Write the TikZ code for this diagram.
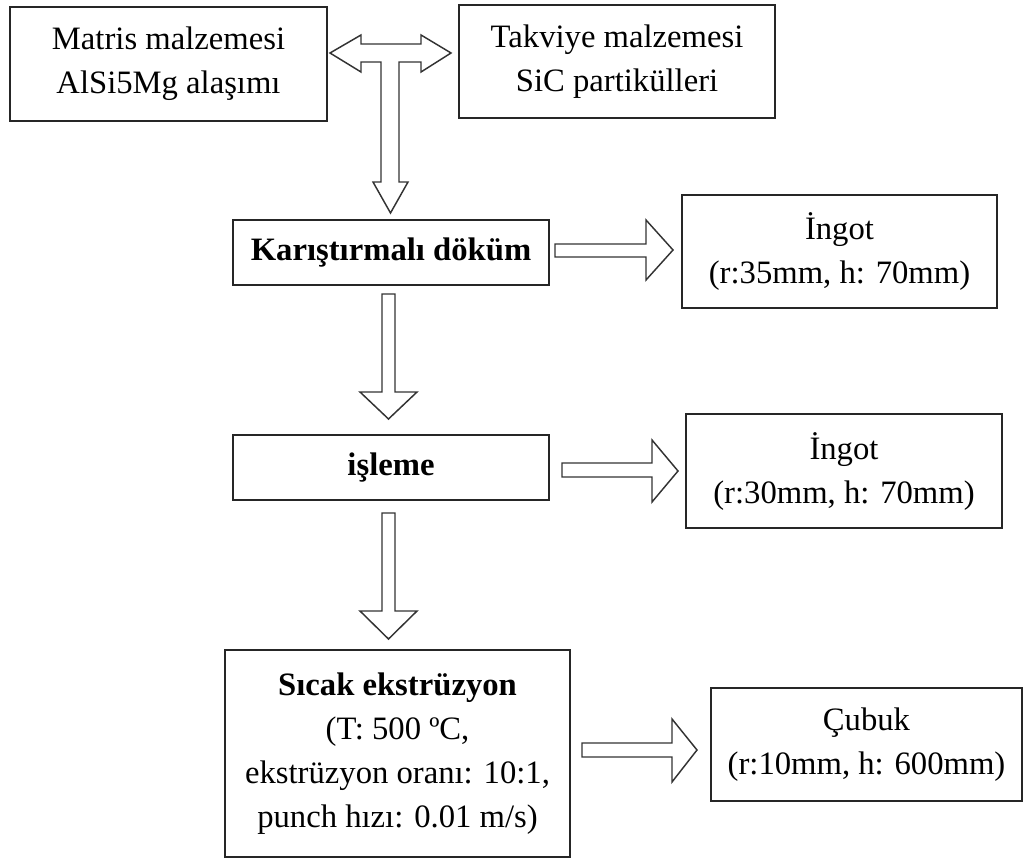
\documentclass[tikz,border=0pt]{standalone}
\usepackage{fontspec}
\setmainfont{Liberation Serif}
\begin{document}
\begin{tikzpicture}[x=0.75pt,y=-0.75pt,
  box/.style={draw=black!85, line width=1.2pt, fill=white, align=center, inner sep=0pt,
    font=\fontsize{24.5}{33}\selectfont},
  blk/.style={draw=black!80, line width=1.1pt, fill=white, line join=miter}]
\useasboundingbox (0,0) rectangle (1030,859);

% boxes
\node[box, minimum width=317*0.75pt, minimum height=114*0.75pt] (matris) at (168.5,64) {Matris malzemesi\\AlSi5Mg alaşımı};
\node[box, minimum width=316*0.75pt, minimum height=113*0.75pt] (takviye) at (617,61.5) {Takviye malzemesi\\SiC partikülleri};
\node[box, minimum width=316*0.75pt, minimum height=65*0.75pt] (karis) at (391,252.5) {\bfseries Karıştırmalı döküm};
\node[box, minimum width=315*0.75pt, minimum height=113*0.75pt] (ingotA) at (839.5,251.5) {İngot\\(r:35mm, h: 70mm)};
\node[box, minimum width=316*0.75pt, minimum height=65*0.75pt] (isleme) at (391,467.5) {\bfseries işleme};
\node[box, minimum width=316*0.75pt, minimum height=114*0.75pt] (ingotB) at (844,471) {İngot\\(r:30mm, h: 70mm)};
\node[box, minimum width=345*0.75pt, minimum height=207*0.75pt] (sicak) at (397.5,753.5) {{\bfseries Sıcak ekstrüzyon}\\(T: 500 ºC,\\ekstrüzyon oranı: 10:1,\\punch hızı: 0.01 m/s)};
\node[box, minimum width=311*0.75pt, minimum height=113*0.75pt] (cubuk) at (866.5,744.5) {Çubuk\\(r:10mm, h: 600mm)};

% T-shaped block arrow (matris <-> takviye, down to karis)
\draw[blk] (330,53) -- (361,35) -- (361,44) -- (421,44) -- (421,35) -- (451,53) -- (421,72) -- (421,62)
  -- (399,62) -- (399,182) -- (408,182) -- (390.5,213) -- (373,182) -- (381,182) -- (381,62)
  -- (361,62) -- (361,72) -- cycle;

% down arrows
\draw[blk] (382,294) -- (395,294) -- (395,392) -- (417,392) -- (388.5,419) -- (360,392) -- (382,392) -- cycle;
\draw[blk] (382,513) -- (395,513) -- (395,611) -- (417,611) -- (388.5,639) -- (360,611) -- (382,611) -- cycle;

% right arrows
\draw[blk] (555,244) -- (646,244) -- (646,220) -- (673,250) -- (646,280) -- (646,257) -- (555,257) -- cycle;
\draw[blk] (562,463) -- (652,463) -- (652,440) -- (678,471) -- (652,502) -- (652,477) -- (562,477) -- cycle;
\draw[blk] (582,743) -- (672,743) -- (672,719) -- (697,750) -- (672,782) -- (672,757) -- (582,757) -- cycle;
\end{tikzpicture}
\end{document}
